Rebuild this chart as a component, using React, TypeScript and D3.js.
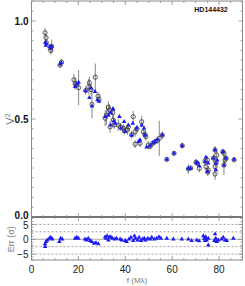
import React from "react";
import { scaleLinear, range, symbol, symbolTriangle } from "d3";

// observed V2 (open circles): spatial frequency, value, error
const obsF = [5.8, 6.2, 6.3, 8.2, 8.6, 7.9, 12.2, 12.8, 18.1, 18.6, 19.3, 20.1, 23.1, 24.4, 24.7, 25.4, 25.8, 27.2, 28.4, 28.8,
  31.4, 32.0, 32.8, 33.2, 33.5, 34.6, 34.9, 35.3, 37.0, 38.0, 39.2, 39.6, 40.9, 41.3,
  43.4, 42.7, 44.2, 44.2, 45.0, 47.0, 47.7, 46.3, 48.4, 48.8, 49.8, 50.6, 51.7, 52.7, 53.7, 54.5, 55.8,
  57.7, 60.8, 64.3, 66.9, 67.9, 70.2, 70.9, 71.6, 74.0, 74.4, 75.0, 75.4, 75.2, 77.6, 78.3, 78.3, 78.7, 79.0, 78.3,
  81.6, 82.1, 83.0, 82.5, 82.1, 86.4];
const obsV = [0.94, 0.915, 0.89, 0.85, 0.87, 0.865, 0.775, 0.79, 0.70, 0.68, 0.675, 0.66, 0.645, 0.665, 0.685, 0.65, 0.575, 0.713, 0.617, 0.60,
  0.504, 0.52, 0.56, 0.546, 0.46, 0.532, 0.495, 0.47, 0.469, 0.46, 0.453, 0.44, 0.444, 0.46,
  0.512, 0.42, 0.435, 0.372, 0.45, 0.486, 0.435, 0.376, 0.42, 0.41, 0.367, 0.36, 0.376, 0.384, 0.39, 0.401, 0.418,
  0.294, 0.325, 0.364, 0.245, 0.25, 0.28, 0.272, 0.248, 0.285, 0.257, 0.291, 0.24, 0.228, 0.30, 0.257, 0.219, 0.276, 0.316, 0.342,
  0.333, 0.325, 0.30, 0.29, 0.265, 0.292];
const obsErr = [0.025, 0.02, 0.015, 0.02, 0.035, 0.015, 0.015, 0.015, 0.03, 0.03, 0.02, 0.09, 0.02, 0.04, 0.03, 0.03, 0.07, 0.07, 0.02, 0.02,
  0.04, 0.05, 0.03, 0.03, 0.03, 0.03, 0.03, 0.02, 0.03, 0.02, 0.02, 0.02, 0.025, 0.02,
  0.03, 0.02, 0.025, 0.02, 0.02, 0.03, 0.02, 0.02, 0.02, 0.02, 0.02, 0.015, 0.015, 0.015, 0.015, 0.09, 0.02,
  0.01, 0.01, 0.015, 0.025, 0.01, 0.015, 0.015, 0.02, 0.02, 0.02, 0.02, 0.02, 0.02, 0.02, 0.025, 0.03, 0.02, 0.02, 0.02,
  0.015, 0.02, 0.015, 0.02, 0.05, 0.01];

// model V2 (blue triangles)
const modF = [5.9, 6.5, 6.1, 7.9, 8.6, 8.3, 12.2, 12.7, 18.6, 19.3, 20.1, 23.1, 25.4, 24.7, 25.8, 27.1, 28.1, 28.8,
  31.4, 32.8, 33.8, 34.6, 34.9, 35.8, 33.8, 35.1, 37.5, 38.1, 39.5, 41.3, 39.9,
  43.2, 44.9, 42.7, 45.6, 47.0, 48.0, 48.4, 46.3, 49.1, 50.6, 51.7, 52.7, 53.7, 55.8,
  57.7, 60.8, 64.3, 66.9, 67.9, 70.2, 70.9, 71.6, 74.4, 74.0, 75.4, 75.0, 77.6, 78.3, 78.7, 78.7, 79.2,
  81.6, 83.0, 82.1, 86.4];
const modV = [0.889, 0.883, 0.875, 0.869, 0.872, 0.86, 0.78, 0.787, 0.665, 0.679, 0.687, 0.644, 0.657, 0.609, 0.566, 0.639, 0.597, 0.59,
  0.512, 0.52, 0.532, 0.55, 0.55, 0.478, 0.469, 0.49, 0.512, 0.453, 0.486, 0.469, 0.435,
  0.478, 0.453, 0.418, 0.384, 0.469, 0.453, 0.418, 0.393, 0.356, 0.362, 0.376, 0.384, 0.396, 0.418,
  0.294, 0.325, 0.364, 0.248, 0.248, 0.279, 0.274, 0.26, 0.305, 0.282, 0.274, 0.231, 0.30, 0.342, 0.274, 0.24, 0.29,
  0.333, 0.30, 0.265, 0.294];

// residuals in sigma
const resF = [5.8, 5.8, 6.2, 6.8, 7.6, 8.2, 8.9, 11.9, 12.4, 13.1, 18.6, 19.3, 20.0, 22.8, 23.5, 24.2, 25.0, 25.7, 26.7, 27.5, 28.5,
  31.4, 31.8, 32.3, 32.8, 33.2, 33.8, 34.6, 35.6, 36.3, 37.8, 38.5, 39.9, 40.6, 41.6, 42.4, 43.4, 43.9, 44.4, 45.3, 45.9,
  46.7, 47.3, 48.1, 48.7, 49.6, 50.6, 51.3, 52.4, 53.4, 54.4, 55.2, 57.7, 60.5, 64.1, 66.9, 68.3, 70.5, 71.5,
  73.3, 73.7, 74.3, 74.0, 74.7, 75.4, 75.4, 78.0, 78.3, 78.6, 79.0, 79.7, 81.1, 81.8, 82.6, 83.3, 86.1];
const resV = [-2.5, -1.6, -0.8, -0.3, 0.3, 0.6, 0, -0.8, 0.3, 0, 0.3, 0.6, 0.3, 0, -0.3, 0.3, -0.5, -0.8, -1.4, -1.2, -1.6,
  0.8, 0.3, 1.1, -0.3, 0.6, 0.8, 0.3, 0, 0.3, 0, -0.3, -0.5, -0.8, 0, 0.6, -0.5, 1.1, 0.3, -0.3, 0.6,
  -0.5, 0, 0.3, -0.3, 0.3, 0, 0.6, 0, 0.3, 0.8, 0.3, 0.3, 0, 0, 0, -0.5, -0.3, -0.6,
  1.1, 0.3, 0.8, -0.5, -0.3, -2, 0.3, -0.5, 1.75, 0.3, -0.8, -0.3, 0, 0.6, -0.3, -0.5, 0.3];

const xTicks = [0, 20, 40, 60, 80];
const vTicks = [0, 0.5, 1.0];
const rTicks = [-5, 0, 5];
const rGuides = [-5, -2.5, 2.5, 5];

const W = 245;
const H = 286;
const left = 31.5;
const right = 242.5;
const topY = 1;
const midY = 217;
const botY = 260;
const frame = "#8a8a8a";
const blue = "#1c1cf0";
const font = "'Liberation Sans', Arial, sans-serif";

export default function App() {
  const x = scaleLinear().domain([0, 90]).range([left, right]);
  const yV = scaleLinear().domain([0, 1.1]).range([midY, midY - 1.1 * 196]);
  const yR = scaleLinear().domain([-7, 7.5]).range([botY, midY]);
  const tri = symbol().type(symbolTriangle).size(9)();

  const xMinor = range(0, 91, 5);
  const vMinor = range(0, 1.101, 0.05);
  const rMinor = range(-7, 8, 1);

  return (
    <svg width={W} height={H} style={{ position: "absolute", left: 0, top: 0 }} fontFamily={font}>
      <rect width={W} height={H} fill="white" />
      {/* guide lines in residual panel */}
      <line x1={left} x2={right} y1={yR(0)} y2={yR(0)} stroke="#aaa" strokeWidth={1.2} />
      {rGuides.map((g) => (
        <line key={g} x1={left} x2={right} y1={yR(g)} y2={yR(g)} stroke="#888" strokeWidth={0.8} strokeDasharray="2,2" />
      ))}

      {/* error bars */}
      {obsF.map((f, i) => (
        <line key={"e" + i} x1={x(f)} x2={x(f)} y1={yV(obsV[i] - obsErr[i])} y2={yV(obsV[i] + obsErr[i])} stroke="#7a7a7a" strokeWidth={0.9} />
      ))}
      {obsF.map((f, i) => (
        <circle key={"o" + i} cx={x(f)} cy={yV(obsV[i])} r={2.1} fill="none" stroke="#333" strokeWidth={0.8} />
      ))}
      {modF.map((f, i) => (
        <path key={"m" + i} d={tri} transform={`translate(${x(f)},${yV(modV[i])})`} fill={blue} />
      ))}
      {resF.map((f, i) => (
        <path key={"r" + i} d={tri} transform={`translate(${x(f)},${yR(resV[i])})`} fill={blue} />
      ))}

      {/* frames */}
      <rect x={left} y={topY} width={right - left} height={midY - topY} fill="none" stroke={frame} strokeWidth={1} />
      <rect x={left} y={midY} width={right - left} height={botY - midY} fill="none" stroke={frame} strokeWidth={1} />
      <line x1={left} x2={right} y1={midY} y2={midY} stroke="#666" strokeWidth={1.3} />

      {/* x ticks on all four horizontal edges */}
      {[topY, midY, midY, botY].map((yy, k) =>
        xMinor.map((t) => {
          const len = t % 20 === 0 ? 4 : 2;
          const dir = k === 0 || k === 2 ? 1 : -1;
          return <line key={k + "x" + t} x1={x(t)} x2={x(t)} y1={yy} y2={yy + dir * len} stroke={frame} strokeWidth={0.8} />;
        })
      )}
      {/* y ticks top panel */}
      {vMinor.map((t) => {
        const major = Math.abs(t * 2 - Math.round(t * 2)) < 1e-6;
        const len = major ? 4 : 2;
        return (
          <g key={"v" + t}>
            <line x1={left} x2={left + len} y1={yV(t)} y2={yV(t)} stroke={frame} strokeWidth={0.8} />
            <line x1={right} x2={right - len} y1={yV(t)} y2={yV(t)} stroke={frame} strokeWidth={0.8} />
          </g>
        );
      })}
      {rMinor.map((t) => {
        const len = t % 5 === 0 ? 4 : 2;
        return (
          <g key={"rt" + t}>
            <line x1={left} x2={left + len} y1={yR(t)} y2={yR(t)} stroke={frame} strokeWidth={0.8} />
            <line x1={right} x2={right - len} y1={yR(t)} y2={yR(t)} stroke={frame} strokeWidth={0.8} />
          </g>
        );
      })}

      {/* tick labels */}
      {vTicks.map((t) => (
        <text key={"vl" + t} x={left - 3} y={t === 0 ? midY + 2 : yV(t) + 3.5} textAnchor="end" fontSize={10} fontWeight="bold" fill="#111">
          {t.toFixed(1)}
        </text>
      ))}
      {rTicks.map((t) => (
        <text key={"rl" + t} x={left - 3} y={t === 5 ? yR(t) + 5 : yR(t) + 3.5} textAnchor="end" fontSize={10} fill="#222">
          {t < 0 ? "\u2212" + Math.abs(t) : t}
        </text>
      ))}
      {xTicks.map((t) => (
        <text key={"xl" + t} x={x(t)} y={botY + 13} textAnchor="middle" fontSize={10} fill="#222">
          {t}
        </text>
      ))}

      {/* axis titles */}
      <text transform={`translate(14,${yV(0.5)}) rotate(-90)`} textAnchor="middle" fontSize={11} fill="#777">
        V<tspan dy={-4} fontSize={7}>2</tspan>
      </text>
      <text transform={`translate(14,${yR(0)}) rotate(-90)`} textAnchor="middle" fontSize={9} fill="#777">
        Err (σ)
      </text>
      <text x={(left + right) / 2} y={H - 3} textAnchor="middle" fontSize={8} fill="#777">
        f (Mλ)
      </text>
      <text x={211} y={12} textAnchor="middle" fontSize={7} fontWeight="bold" fill="#111">
        HD144432
      </text>
    </svg>
  );
}
